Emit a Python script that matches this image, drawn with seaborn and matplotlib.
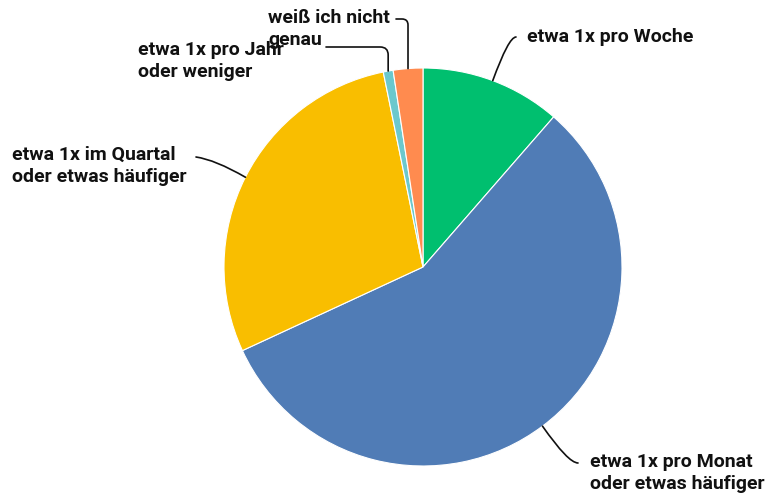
import numpy as np
import matplotlib
matplotlib.use("Agg")
import matplotlib.pyplot as plt
import seaborn as sns

# --- DATA ---
labels = ["etwa 1x pro Woche",
          "etwa 1x pro Monat\noder etwas häufiger",
          "etwa 1x im Quartal\noder etwas häufiger",
          "etwa 1x pro Jahr\noder weniger",
          "weiß ich nicht\ngenau"]
shares = [11.4, 56.7, 28.7, 0.8, 2.4]
colors = ["#00BF6F", "#507CB6", "#F9BE00", "#6BC8CD", "#FF8B4F"]

# label text anchor (left, first-line centre) and leader end, in image pixels
label_pos = [(527, 37), (590, 465), (12, 158), (138, 53), (268, 21)]
leader_end = [(516, 37), (578, 463), (196, 157), (326, 47), (396, 19)]
leader_style = ["angle3,angleA=0,angleB=70",
                "angle3,angleA=0,angleB=-55",
                "angle3,angleA=-8,angleB=-30",
                "angle,angleA=0,angleB=90,rad=8",
                "angle,angleA=0,angleB=90,rad=6"]

sns.set_theme(style="white")
plt.rcParams['font.family'] = ['Roboto', 'DejaVu Sans']

W, H = 771, 500
fig = plt.figure(figsize=(W / 100, H / 100), dpi=100)
cx, cy, r = 423, 267, 199
ax = fig.add_axes([(cx - r) / W, 1 - (cy + r) / H, 2 * r / W, 2 * r / H])

wedges, _ = ax.pie(shares, colors=colors, startangle=90, counterclock=False,
                   wedgeprops=dict(linewidth=0.8, edgecolor="white"))
ax.set_xlim(-1, 1)
ax.set_ylim(-1, 1)
ax.set_aspect("auto")
ax.axis("off")


def to_fig(x, y):
    return x / W, 1 - y / H


for w, lab, (tx, ty), (ex, ey), cs in zip(wedges, labels, label_pos, leader_end, leader_style):
    mid = np.deg2rad((w.theta1 + w.theta2) / 2)
    xy = (np.cos(mid), np.sin(mid))
    ax.annotate("", xy=xy, xycoords="data", xytext=to_fig(ex, ey),
                textcoords="figure fraction",
                arrowprops=dict(arrowstyle="-", color="#111111", lw=1.2,
                                connectionstyle=cs, shrinkA=0, shrinkB=0))
    # multi-line labels: anchor at top so the first line sits at ty
    if "\n" in lab:
        fx, fy = to_fig(tx, ty - 12)
        va = "top"
    else:
        fx, fy = to_fig(tx, ty)
        va = "center"
    fig.text(fx, fy, lab, ha="left", va=va, fontsize=14,
             fontweight="semibold", color="#111111", linespacing=1.32)

fig.savefig("out.png", dpi=100)
